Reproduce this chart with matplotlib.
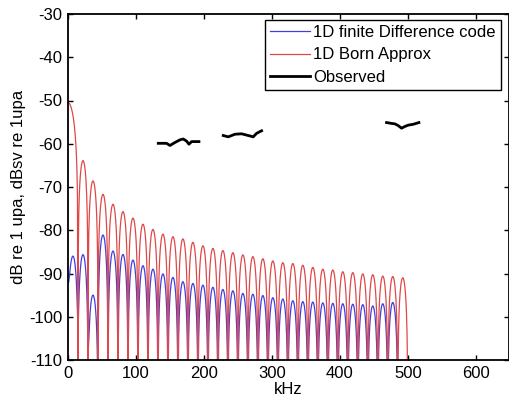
import matplotlib
matplotlib.use("Agg")
import matplotlib.pyplot as plt
import numpy as np

# ---- data (kHz, dB) ----
# red: 1D Born approximation -- nulls and the peak level of each lobe
born_nulls = [-14.7, 14.7, 29.4, 44.1, 58.8, 73.5, 88.2, 102.9, 117.6, 132.3,
              147.0, 161.7, 176.4, 191.1, 205.8, 220.5, 235.2, 249.9, 264.6,
              279.3, 294.0, 308.7, 323.4, 338.1, 352.8, 367.5, 382.2, 396.9,
              411.6, 426.3, 441.0, 455.7, 470.4, 485.1, 499.8]
born_peaks = [-50.5, -63.9, -68.6, -71.7, -74.0, -75.7, -77.2, -78.6, -79.8,
              -80.9, -81.5, -82.0, -82.8, -83.6, -84.2, -84.7, -85.2, -85.7,
              -86.1, -86.6, -87.1, -87.5, -87.7, -88.1, -88.6, -89.0, -89.2,
              -89.6, -89.8, -90.1, -90.3, -90.6, -90.7, -91.0]
born_depths = [-140.0] * len(born_nulls)

# blue: 1D finite difference code
fd_nulls = [0.0, 14.7, 29.4, 44.1, 58.8, 73.5, 88.2, 102.9, 117.6, 132.3,
            147.0, 161.7, 176.4, 191.1, 205.8, 220.5, 235.2, 249.9, 264.6,
            279.3, 294.0, 308.7, 323.4, 338.1, 352.8, 367.5, 382.2, 396.9,
            411.6, 426.3, 441.0, 455.7, 470.4, 485.1]
fd_peaks = [-86.3, -85.7, -95.0, -81.1, -84.8, -85.6, -86.9, -88.2, -89.0,
            -90.1, -90.9, -91.9, -92.3, -92.7, -93.2, -93.7, -94.0, -94.6,
            -94.8, -95.1, -95.6, -95.9, -96.3, -96.5, -96.6, -96.8, -96.9,
            -97.0, -97.1, -97.2, -97.5, -97.0, -96.7]
fd_depths = [-92.0, -103.0, -107.0] + [-140.0] * (len(fd_nulls) - 3)

# black: observed, three short bands
obs_f = [[132.8, 145.0, 150.0, 157.4, 164.7, 169.6, 174.5, 177.9, 181.9, 192.6],
         [228.4, 235.8, 245.6, 255.4, 262.8, 272.5, 277.4, 284.8],
         [468.6, 475.9, 480.9, 485.7, 490.7, 495.6, 500.5, 507.8, 516.2]]
obs_db = [[-59.9, -59.9, -60.4, -59.7, -59.1, -58.9, -59.4, -60.1, -59.5, -59.5],
          [-58.1, -58.4, -57.8, -57.7, -58.0, -58.4, -57.6, -57.0],
          [-55.1, -55.3, -55.4, -55.8, -56.4, -56.0, -55.7, -55.5, -55.1]]

xticks = [0, 100, 200, 300, 400, 500, 600]
yticks = [-110, -100, -90, -80, -70, -60, -50, -40, -30]


def lobes(nulls, peaks, depths, n=40):
    # draw each lobe as an arch between two nulls, topped at its read peak level
    xs, ys = [], []
    for i, p in enumerate(peaks):
        t = np.linspace(0, 1, n)
        x = nulls[i] + (nulls[i + 1] - nulls[i]) * t
        a = 10 ** (p / 20) * np.sin(np.pi * t)
        d = 10 ** ((depths[i] * (1 - t) + depths[i + 1] * t) / 20)
        xs.append(x)
        ys.append(10 * np.log10(a ** 2 + d ** 2))
    return np.concatenate(xs), np.concatenate(ys)


plt.rcParams['font.family'] = ['Liberation Sans', 'DejaVu Sans']
plt.rcParams['axes.unicode_minus'] = False

fig = plt.figure(figsize=(5.09, 4.04), dpi=100)
ax = fig.add_axes([68 / 509, 44 / 404, 440.5 / 509, 346 / 404])

fx, fy = lobes(fd_nulls, fd_peaks, fd_depths)
bx, by = lobes(born_nulls, born_peaks, born_depths)
ax.plot(fx, fy, color='#4040e0', linewidth=0.9, label='1D finite Difference code')
ax.plot(bx, by, color='#e04848', linewidth=0.9, label='1D Born Approx')
for i, (f, d) in enumerate(zip(obs_f, obs_db)):
    ax.plot(f, d, color='black', linewidth=2, label='Observed' if i == 0 else None)

ax.set_xlim(0, 648)
ax.set_ylim(-110, -30)
ax.set_xticks(xticks)
ax.set_yticks(yticks)
ax.tick_params(direction='in', top=True, right=True, length=3.5, width=1,
               labelsize=12, pad=4)
for s in ax.spines.values():
    s.set_linewidth(1.3)

ax.set_xlabel('kHz', fontsize=12, labelpad=1)
ax.set_ylabel('dB re 1 upa, dBsv re 1upa', fontsize=12, labelpad=2)

leg = ax.legend(loc='upper right', bbox_to_anchor=(0.982, 0.983), borderaxespad=0,
                fontsize=12, handlelength=2.4, handletextpad=0.2, labelspacing=0.45,
                borderpad=0.3, fancybox=False, framealpha=1, edgecolor='black')
leg.get_frame().set_linewidth(1.0)

fig.savefig('out.png', dpi=100)
